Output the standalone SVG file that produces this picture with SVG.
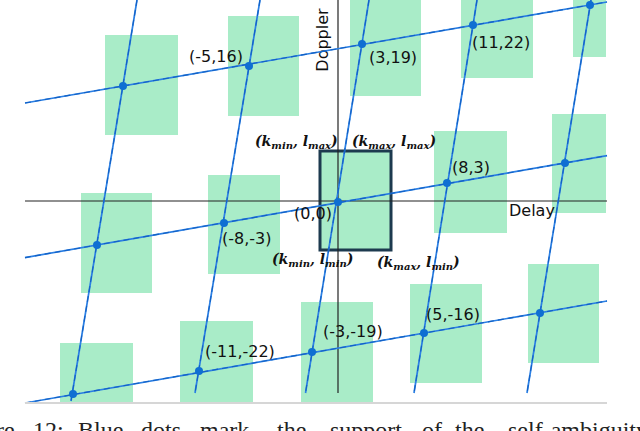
<svg xmlns="http://www.w3.org/2000/svg" width="640" height="431" viewBox="0 0 640 431">
<style>
.cell{fill:#a9ecc8;}
.ln{stroke:#2a7fe4;stroke-width:1.7;fill:none;}
.lnd{stroke:#1260c4;stroke-width:1.1;fill:none;stroke-dasharray:6 4;}
.dot{fill:#0f6fd2;}
.lbl{font-family:"DejaVu Sans",sans-serif;font-size:16px;fill:#111;}
.ax{stroke:#222;stroke-width:1.2;fill:none;}
.m{font-family:"DejaVu Serif",serif;font-size:14px;font-weight:bold;font-style:italic;fill:#111;}
.sub{font-size:10px;}
.cap{font-family:"Liberation Serif",serif;font-size:24px;fill:#222;}
</style>
<rect width="640" height="431" fill="#fff"/>

<g id="cells">
  <rect class="cell" x="105" y="35" width="73" height="100"/>
  <rect class="cell" x="228" y="16" width="71" height="100"/>
  <rect class="cell" x="350" y="0" width="71" height="96"/>
  <rect class="cell" x="461" y="0" width="72" height="78"/>
  <rect class="cell" x="573" y="0" width="33" height="57"/>
  <rect class="cell" x="81" y="193" width="71" height="100"/>
  <rect class="cell" x="208" y="175" width="72" height="99"/>
  <rect class="cell" x="434" y="131" width="73" height="102"/>
  <rect class="cell" x="552" y="114" width="54" height="99"/>
  <rect class="cell" x="60" y="343" width="73" height="59"/>
  <rect class="cell" x="180" y="321" width="73" height="81"/>
  <rect class="cell" x="301" y="302" width="72" height="100"/>
  <rect class="cell" x="410" y="284" width="72" height="99"/>
  <rect class="cell" x="528" y="264" width="71" height="99"/>
</g>

<g id="center">
  <rect x="320" y="151" width="71" height="99" fill="#a9ecc8" stroke="#1d3a4f" stroke-width="3"/>
</g>

<g id="axes">
  <line class="ax" x1="25" y1="201" x2="607" y2="201"/>
  <line class="ax" x1="338" y1="0" x2="338" y2="393"/>
  <text class="lbl" x="509" y="216">Delay</text>
  <text class="lbl" font-size="15" text-anchor="middle" transform="translate(328,40) rotate(-90)">Doppler</text>
</g>

<g id="connectors">
  <line class="ln" x1="25" y1="103" x2="607" y2="2"/>
  <line class="ln" x1="25" y1="257.6" x2="607" y2="155.6"/>
  <line class="ln" x1="25" y1="403" x2="607" y2="301"/>
  <line class="ln" x1="137" y1="0" x2="71" y2="401"/>
  <line class="ln" x1="260" y1="0" x2="195" y2="393"/>
  <line class="ln" x1="369" y1="0" x2="305.5" y2="393"/>
  <line class="ln" x1="477" y1="0" x2="414" y2="393"/>
  <line class="ln" x1="591" y1="0" x2="527" y2="393"/>
  <line class="lnd" x1="25" y1="103" x2="607" y2="2"/>
  <line class="lnd" x1="25" y1="257.6" x2="607" y2="155.6"/>
  <line class="lnd" x1="25" y1="403" x2="607" y2="301"/>
  <line class="lnd" x1="137" y1="0" x2="71" y2="401"/>
  <line class="lnd" x1="260" y1="0" x2="195" y2="393"/>
  <line class="lnd" x1="369" y1="0" x2="305.5" y2="393"/>
  <line class="lnd" x1="477" y1="0" x2="414" y2="393"/>
  <line class="lnd" x1="591" y1="0" x2="527" y2="393"/>
</g>

<g id="n-5_16"><circle class="dot" cx="123" cy="86" r="4"/></g>
<g id="n-5_16b"><circle class="dot" cx="249" cy="66" r="4"/><text class="lbl" x="189" y="62">(-5,16)</text></g>
<g id="n3_19"><circle class="dot" cx="362" cy="44" r="4"/><text class="lbl" x="369" y="63">(3,19)</text></g>
<g id="n11_22"><circle class="dot" cx="473" cy="25" r="4"/><text class="lbl" x="472" y="48">(11,22)</text></g>
<g id="n19_25"><circle class="dot" cx="590" cy="5" r="4"/></g>
<g id="n-16_-6"><circle class="dot" cx="97" cy="245" r="4"/></g>
<g id="n-8_-3"><circle class="dot" cx="224" cy="223" r="4"/><text class="lbl" x="222" y="244">(-8,-3)</text></g>
<g id="n0_0"><circle class="dot" cx="338" cy="202" r="4"/><text class="lbl" x="294" y="219">(0,0)</text></g>
<g id="n8_3"><circle class="dot" cx="447" cy="183" r="4"/><text class="lbl" x="452" y="173">(8,3)</text></g>
<g id="n16_6"><circle class="dot" cx="565" cy="163" r="4"/></g>
<g id="n-19_-25"><circle class="dot" cx="73" cy="394" r="4"/></g>
<g id="n-11_-22"><circle class="dot" cx="199" cy="371" r="4"/><text class="lbl" x="205" y="357">(-11,-22)</text></g>
<g id="n-3_-19"><circle class="dot" cx="312" cy="352" r="4"/><text class="lbl" x="323" y="337">(-3,-19)</text></g>
<g id="n5_-16"><circle class="dot" cx="424" cy="333" r="4"/><text class="lbl" x="426" y="320">(5,-16)</text></g>
<g id="n13_-13"><circle class="dot" cx="540" cy="313" r="4"/></g>

<g id="corners">
  <text class="m" x="255" y="146">(k<tspan class="sub" dy="3">min</tspan><tspan dy="-3">, l</tspan><tspan class="sub" dy="3">max</tspan><tspan dy="-3">)</tspan></text>
  <text class="m" x="352" y="146">(k<tspan class="sub" dy="3">max</tspan><tspan dy="-3">, l</tspan><tspan class="sub" dy="3">max</tspan><tspan dy="-3">)</tspan></text>
  <text class="m" x="272" y="264">(k<tspan class="sub" dy="3">min</tspan><tspan dy="-3">, l</tspan><tspan class="sub" dy="3">min</tspan><tspan dy="-3">)</tspan></text>
  <text class="m" x="377" y="267">(k<tspan class="sub" dy="3">max</tspan><tspan dy="-3">, l</tspan><tspan class="sub" dy="3">min</tspan><tspan dy="-3">)</tspan></text>
</g>

<line x1="25" y1="403" x2="607" y2="403" stroke="#d6d6d6" stroke-width="2"/>

<text class="cap" y="438"><tspan x="-48">Figure</tspan><tspan x="33">12:</tspan><tspan x="78">Blue</tspan><tspan x="141">dots</tspan><tspan x="200">mark</tspan><tspan x="277">the</tspan><tspan x="330">support</tspan><tspan x="422">of</tspan><tspan x="455">the</tspan><tspan x="508">self-ambiguity</tspan></text>
</svg>
